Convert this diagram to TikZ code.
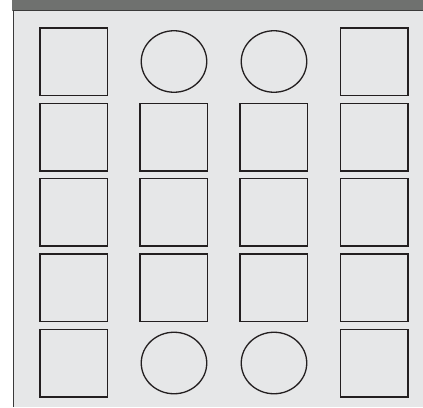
\documentclass[tikz,border=0pt]{standalone}
\usepackage{tikz}
\usetikzlibrary{shapes.geometric}
\definecolor{panelgray}{HTML}{E6E7E8}
\definecolor{bargray}{HTML}{6F716F}
\definecolor{edgegray}{HTML}{3A3A3A}
\definecolor{linegray}{HTML}{231F20}

\begin{document}
\begin{tikzpicture}[x=1pt,y=-1pt,
    cellbox/.style={draw=linegray,line width=1.5pt,rectangle,minimum size=67.5pt,inner sep=0pt},
    cellround/.style={draw=linegray,line width=1.3pt,ellipse,minimum width=65.5pt,minimum height=61.5pt,inner sep=0pt}]
  \useasboundingbox (0,0) rectangle (423,407);
  % page, header bar and panel
  \fill[white] (0,0) rectangle (423,407);
  \fill[bargray] (12,0) rectangle (423,11);
  \fill[panelgray] (13,11) rectangle (423,407);
  \draw[edgegray,line width=1.2pt] (13.2,407) -- (13.2,10.6) -- (423,10.6);
  % square cells
  \foreach \r/\y in {1/61.5,2/137,3/212.3,4/287.5,5/363} {
    \node[cellbox] (cell-\r-1) at (73.5,\y) {};
    \node[cellbox] (cell-\r-4) at (374,\y) {};
  }
  \foreach \r/\y in {2/137,3/212.3,4/287.5} {
    \node[cellbox] (cell-\r-2) at (173.8,\y) {};
    \node[cellbox] (cell-\r-3) at (273.7,\y) {};
  }
  % round cells
  \foreach \r/\y in {1/61.5,5/363} {
    \node[cellround] (cell-\r-2) at (174,\y) {};
    \node[cellround] (cell-\r-3) at (274,\y) {};
  }
\end{tikzpicture}
\end{document}
